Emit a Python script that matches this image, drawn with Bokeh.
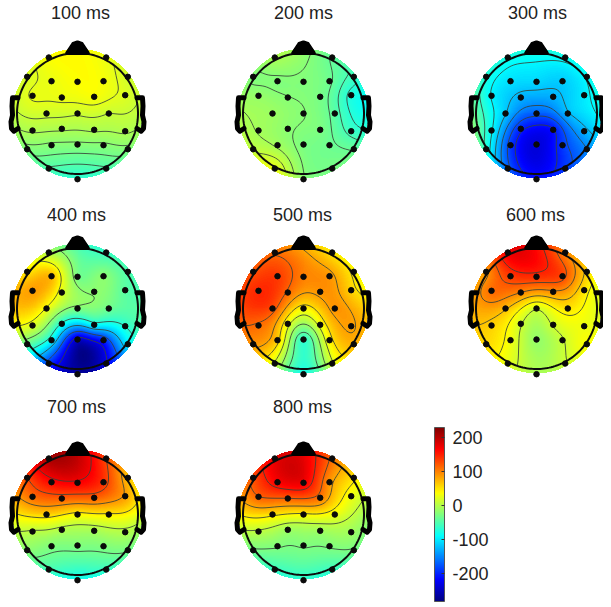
import numpy as np
from bokeh.plotting import figure
from bokeh.models import LinearColorMapper, ColorBar, FixedTicker, AllLabels
from bokeh.embed import file_html
from bokeh.resources import INLINE
from bokeh.core.properties import value

W, H = 611, 607
titles = ["100 ms", "200 ms", "300 ms", "400 ms", "500 ms", "600 ms", "700 ms", "800 ms"]
channels = ["Fp1","Fp2","F7","F8","F3","Fz","F4","FC5","FC1","FC2","FC6","C3","Cz","C4",
            "CP5","CP1","CP2","CP6","P3","Pz","P4","P7","P8","O1","O2","Oz"]
# electrode offsets from head centre, in pixels (y up)
ex = [-28.7,28.7,-50.3,50.3,-26,0,26,-45,-15.7,16.7,47.7,-31,0,31.3,-45,-15.7,16.7,47.7,-26,0,26,-50.3,50.3,-28.7,28.7,0]
ey = [56,56,36.7,36.7,32.3,31.7,32.3,17.7,16,16.7,18.3,0,0,0,-17,-15.3,-16.3,-17.7,-31.7,-31,-31.7,-35.7,-35.7,-55,-55,-65.7]
t100 = [35,28,18,15,28,36,33,26,28,33,20,14,12,10,-2,-2,-2,-2,-22,-22,-22,-25,-24,-50,-50,-70]
t200 = [-5,-40,-25,-60,-25,-25,-35,-15,-22,-30,-75,-12,-22,-45,-8,-20,-28,-60,-10,-28,-35,5,-40,25,-30,-20]
t300 = [-80,-85,-75,-90,-105,-110,-115,-95,-130,-130,-100,-120,-170,-125,-90,-200,-210,-130,-190,-235,-190,-75,-150,-170,-190,-210]
t400 = [0,-60,50,-50,70,-30,-20,85,20,-20,-45,30,-25,-35,20,-75,-85,-70,-90,-240,-200,-40,-100,-190,-230,-265]
t500 = [110,50,125,45,135,100,90,145,110,90,60,125,40,90,110,30,30,85,60,-65,40,90,75,15,15,-80]
t600 = [170,100,90,60,135,140,130,110,95,90,50,70,15,50,60,15,15,30,30,-15,10,55,35,25,10,-5]
t700 = [205,130,130,70,160,165,140,110,115,115,85,60,40,45,5,0,-5,0,-25,-25,-25,-20,-30,-55,-60,-85]
t800 = [175,110,125,50,165,170,90,115,115,105,30,50,40,30,5,-10,-10,-10,-25,-25,-25,-30,-30,-60,-60,-70]
maps = [t100, t200, t300, t400, t500, t600, t700, t800]
centers = [(77,113),(303,113),(536,113),(77,308),(303,308),(536,308),(77,514),(303,514)]
title_pos = [(80,12),(303,12),(537,12),(76,214),(302,214),(535,214),(76,406),(302,406)]
bar_ticks = [200,100,0,-100,-200]
LOW, HIGH = -282, 229

def jet(n=256):
    out = []
    for i in range(n):
        t = i/(n-1)
        r = np.clip(min(4*t-1.5, -4*t+4.5),0,1)
        g = np.clip(min(4*t-0.5, -4*t+3.5),0,1)
        b = np.clip(min(4*t+0.5, -4*t+2.5),0,1)
        out.append("#%02x%02x%02x" % (int(r*255),int(g*255),int(b*255)))
    return out

mapper = LinearColorMapper(palette=jet(), low=LOW, high=HIGH, nan_color=(0,0,0,0))

FW, FH = W-8, H-2
p = figure(width=FW, height=FH, x_range=(0,FW), y_range=(H-FH,H), output_backend="svg",
           toolbar_location=None, min_border=0, outline_line_color=None,
           background_fill_color=None, border_fill_color=None)
p.axis.visible = False
p.grid.visible = False

EX, EY = np.array(ex,float), np.array(ey,float)

def green(d):
    with np.errstate(divide="ignore", invalid="ignore"):
        g = d**2*(np.log(d)-1)
    return np.nan_to_num(g)

R_MAP, R_HEAD = 65.5, 60.5
N = 132
gx = np.linspace(-R_MAP, R_MAP, N)
GX, GY = np.meshgrid(gx, gx)
D = np.hypot(EX[:,None]-EX[None,:], EY[:,None]-EY[None,:])
A = green(D)

nose_x = [-10.3,-4.3,0,4.3,10.3]
nose_y = [60.5,69.5,71,69.5,60.5]
ear_x = [-59.5,-65,-65.5,-65,-66.5,-66,-63.5,-59.5]
ear_y = [15.7,15.7,7.3,-1.7,-8.3,-15,-17.7,-15]
theta = np.linspace(0,2*np.pi,200)

for vals,(cx,cy),tt,tp in zip(maps,centers,titles,title_pos):
    y0 = H-cy
    w = np.linalg.solve(A, np.array(vals,float))
    dist = np.sqrt((GX[...,None]-EX)**2+(GY[...,None]-EY)**2)
    Z = (green(dist)*w).sum(axis=-1)
    rr = np.hypot(GX,GY)
    img = np.where(rr<=R_MAP, Z, np.nan)
    p.image(image=[img], x=cx-R_MAP, y=y0-R_MAP, dw=2*R_MAP, dh=2*R_MAP, color_mapper=mapper)
    inside = rr<=R_HEAD+1
    zi = Z[inside]
    lv = np.linspace(zi.min(), zi.max(), 8)[1:-1]
    zm = np.ma.masked_where(~inside, Z)
    p.contour(gx+cx, gx+y0, zm, list(lv), line_color="#37433a", line_width=1, line_alpha=0.85, fill_color=None)
    p.line(cx+R_HEAD*np.cos(theta), y0+R_HEAD*np.sin(theta), line_color="#0c0c0c", line_width=2)
    p.patch(cx+np.array(nose_x), y0+np.array(nose_y), line_color="black", fill_color="black", line_width=4, line_join="round")
    for s in (1,-1):
        p.line(cx+s*np.array(ear_x), y0+np.array(ear_y), line_color="black", line_width=5, line_join="round", line_cap="round")
    p.scatter(cx+EX, y0+EY, size=5.5, color="#0a0a0a")
    p.text(x=[tp[0]], y=[H-tp[1]], text=[tt], text_align="center", text_baseline="middle",
           text_font=value("Liberation Sans"), text_font_size="18px", text_color="#222222")

cb = ColorBar(color_mapper=mapper, ticker=FixedTicker(ticks=bar_ticks),
              major_label_overrides={v:str(v) for v in bar_ticks},
              major_label_policy=AllLabels(),
              location=(434, FH-601), width=10, height=174, padding=0,
              background_fill_color=None, border_line_color=None,
              bar_line_color="#555555", bar_line_width=1,
              major_tick_in=3, major_tick_line_color="#333333", minor_tick_line_color=None,
              label_standoff=8, major_label_text_font="Liberation Sans",
              major_label_text_font_size="18px", major_label_text_color="#222222")
p.add_layout(cb, "center")

open("out.html","w").write(file_html(p, INLINE))
